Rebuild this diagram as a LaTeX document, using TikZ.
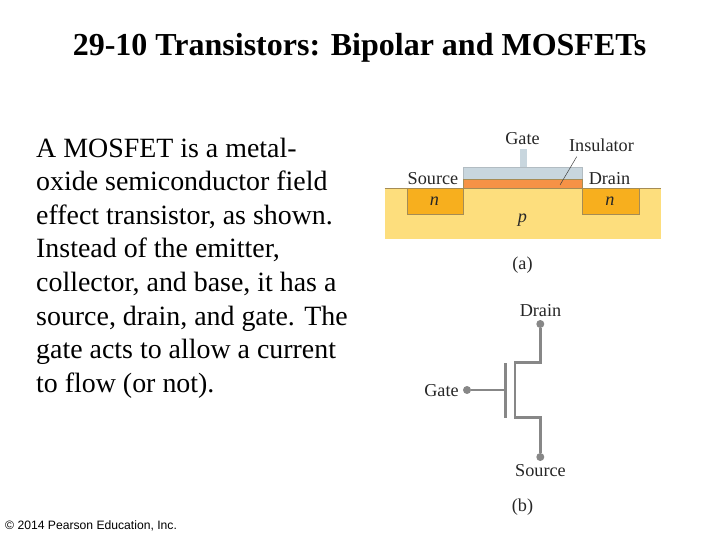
\documentclass[tikz,border=0pt]{standalone}
\usepackage{fontspec}
\setmainfont{Liberation Serif}
\newfontfamily\arialf{Liberation Sans}
\definecolor{psub}{RGB}{253,222,125}
\definecolor{ndop}{RGB}{247,175,30}
\definecolor{insu}{RGB}{246,146,70}
\definecolor{gatem}{RGB}{200,214,222}
\definecolor{edgeb}{RGB}{165,140,85}
\definecolor{schem}{RGB}{135,135,135}
\tikzset{
  figlabel/.style={inner sep=0pt,text=black!85,font=\fontsize{18.2}{20}\selectfont},
  figital/.style={inner sep=0pt,text=black!85,font=\itshape\fontsize{18.2}{20}\selectfont},
  wire/.style={draw=schem,line width=2.6pt,line join=miter},
  termdot/.style={circle,fill=schem,inner sep=0pt,minimum size=8pt},
  region/.style={draw=edgeb,line width=0.8pt}
}
\begin{document}
\begin{tikzpicture}[x=1pt,y=-1pt]
\useasboundingbox (0,0) rectangle (720,540);
\node[inner sep=0pt,font=\bfseries\fontsize{32}{36}\selectfont] (title) at (359.5,47.5) {29-10 Transistors: Bipolar and MOSFETs};
\node[anchor=north west,inner sep=0pt,align=left,font=\fontsize{27.9}{33.6}\selectfont] (body) at (36,137.5) {A MOSFET is a metal-\\oxide semiconductor field\\effect transistor, as shown.\\Instead of the emitter,\\collector, and base, it has a\\source, drain, and gate. The\\gate acts to allow a current\\to flow (or not).};
\node[anchor=west,inner sep=0pt,font=\arialf\fontsize{12.15}{14}\selectfont] (copy) at (5,526) {© 2014 Pearson Education, Inc.};
% cut-away
\fill[psub] (384.5,188.5) rectangle (661,239);
\draw[edgeb,line width=0.8pt] (384.5,188.5) -- (661,188.5);
\filldraw[fill=ndop,region] (407,188.5) -- (407,214) -- (463,214) -- (463,188.5) -- cycle;
\filldraw[fill=ndop,region] (582.5,188.5) -- (582.5,214) -- (639,214) -- (639,188.5) -- cycle;
\fill[gatem] (519.5,149) rectangle (526.5,168);
\filldraw[fill=gatem,draw=gatem!70!gray,line width=0.4pt] (463,167.5) rectangle (582.5,179);
\filldraw[fill=insu,region] (463,179) rectangle (582.5,188.5);
\node[figlabel] (gatea) at (522.5,138.5) {Gate};
\node[figlabel] (insul) at (601.5,145.5) {Insulator};
\node[figlabel] (sourcea) at (433,178.5) {Source};
\node[figlabel] (draina) at (609.5,178.5) {Drain};
\node[figital] (nl) at (434.5,201) {n};
\node[figital] (nr) at (610,201) {n};
\node[figital] (pl) at (522.5,220) {p};
\node[figlabel] (capa) at (522.5,265.5) {(a)};
\coordinate (instop) at (576.7,156.7);
\coordinate (insbot) at (560,185);
\draw[black!75,line width=0.5pt] (instop) -- (insbot);
% schematic
\node[termdot] (dd) at (540.3,324) {};
\node[termdot] (ds) at (540.3,457) {};
\node[termdot] (dg) at (467,390) {};
\coordinate (bart) at (505.7,363.3);
\coordinate (barb) at (505.7,417.7);
\coordinate (gj) at (505.7,390);
\draw[wire] (dd) -- (540.3,362.7) -- (515,362.7) -- (515,417.7) -- (540.3,417.7) -- (ds);
\draw[wire] (bart) -- (barb);
\draw[wire] (dg) -- (gj);
\node[figlabel] (drainb) at (540.5,310.5) {Drain};
\node[figlabel] (gateb) at (441.5,391) {Gate};
\node[figlabel] (sourceb) at (540.5,471) {Source};
\node[figlabel] (capb) at (522.5,507) {(b)};
\end{tikzpicture}
\end{document}
